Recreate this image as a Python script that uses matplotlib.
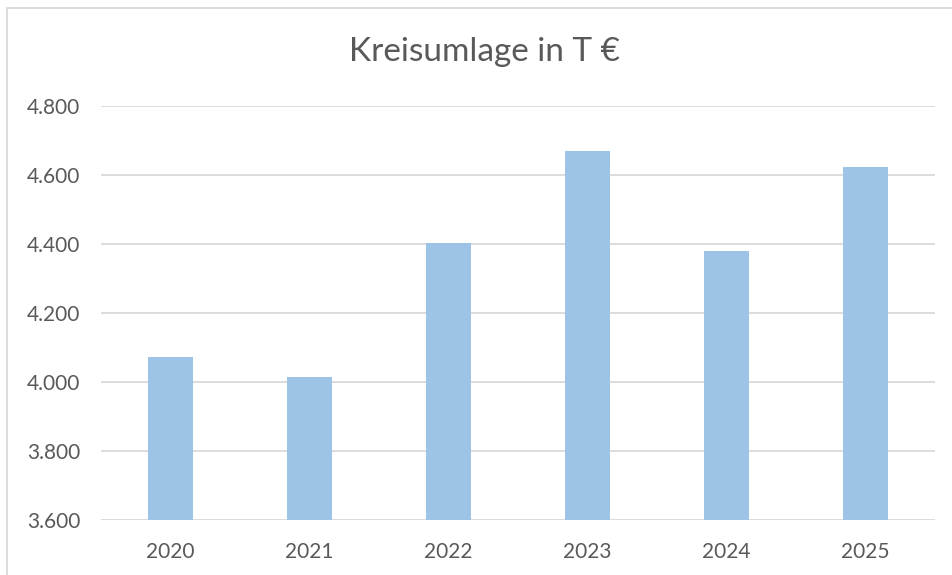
import matplotlib.pyplot as plt
from matplotlib.patches import Rectangle
from matplotlib.ticker import FuncFormatter

plt.rcParams['font.family'] = ['Lato', 'DejaVu Sans']

years = ['2020', '2021', '2022', '2023', '2024', '2025']
values = [4072, 4014, 4402, 4669, 4381, 4623]
y_ticks = [3600, 3800, 4000, 4200, 4400, 4600, 4800]

text_color = '#595959'

fig = plt.figure(figsize=(9.52, 5.75), dpi=100)
ax = fig.add_axes([101 / 952, 1 - 520 / 575, 834 / 952, 414 / 575])

x = range(len(years))
ax.bar(x, values, width=0.32, color='#9DC3E6', zorder=2)

ax.set_xlim(-0.5, len(years) - 0.5)
ax.set_ylim(3600, 4800)
ax.set_yticks(y_ticks)
ax.yaxis.set_major_formatter(FuncFormatter(lambda v, p: f'{int(v):,}'.replace(',', '.')))
ax.set_xticks(list(x))
ax.set_xticklabels(years)

ax.grid(axis='y', color='#D9D9D9', linewidth=1.3, zorder=0)
for s in ax.spines.values():
    s.set_visible(False)
ax.tick_params(length=0, labelsize=15, colors=text_color)
ax.tick_params(axis='x', pad=16)
ax.tick_params(axis='y', pad=15)

fig.text(485 / 952, 1 - 52 / 575, 'Kreisumlage in T €', ha='center', va='center',
         fontsize=24, color=text_color)

# chart border
fig.patches.append(Rectangle((7 / 952, -0.1), 1.1, 1 - 8 / 575 + 0.1, transform=fig.transFigure,
                             fill=False, edgecolor='#D9D9D9', linewidth=1.3))

fig.savefig('out.png', dpi=100)
